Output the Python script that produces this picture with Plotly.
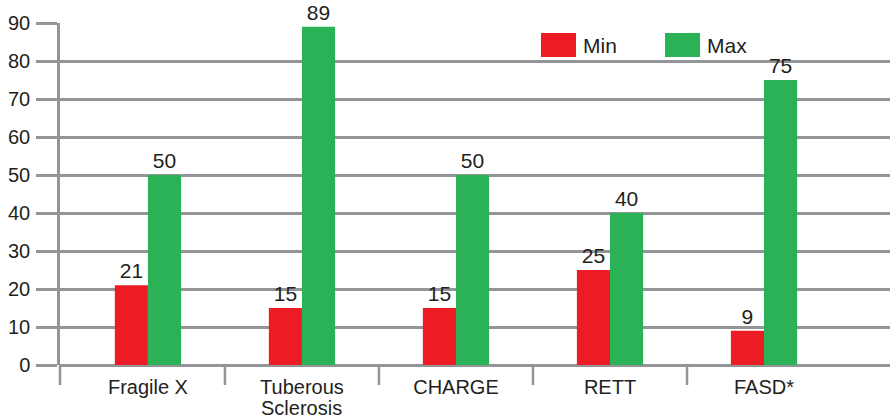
import plotly.graph_objects as go

# Age ranges (min / max) by condition
categories = ["Fragile X", "Tuberous", "CHARGE", "RETT", "FASD*"]
second_line = ["", "Sclerosis", "", "", ""]
min_values = [21, 15, 15, 25, 9]
max_values = [50, 89, 50, 40, 75]
y_ticks = [0, 10, 20, 30, 40, 50, 60, 70, 80, 90]

RED = "#ED1C24"
GREEN = "#2BB257"
GRID = "#939598"
TEXT = "#231F20"
FONT = "Liberation Sans, Arial, sans-serif"

x_pos = list(range(len(categories)))

fig = go.Figure()
fig.add_trace(go.Bar(
    x=x_pos, y=min_values, name="Min", marker=dict(color=RED, line=dict(width=0)),
    text=[str(v) for v in min_values], textposition="outside",
    textfont=dict(size=21, color=TEXT, family=FONT), cliponaxis=False,
))
fig.add_trace(go.Bar(
    x=x_pos, y=max_values, name="Max", marker=dict(color=GREEN, line=dict(width=0)),
    text=[str(v) for v in max_values], textposition="outside",
    textfont=dict(size=21, color=TEXT, family=FONT), cliponaxis=False,
))

plot_h = 342.0
tick_frac = 20 / plot_h

shapes = []
# category separators below the baseline
for i in range(len(categories) - 1):
    shapes.append(dict(type="line", xref="x", yref="paper", x0=i + 0.5, x1=i + 0.5,
                       y0=0, y1=-tick_frac, line=dict(color=GRID, width=2.5)))
# extension of the value axis below the baseline
shapes.append(dict(type="line", xref="paper", yref="paper", x0=0, x1=0,
                   y0=0, y1=-tick_frac, line=dict(color=GRID, width=2.5)))

annotations = []
# second line of wrapped category labels, set tighter than the default line height
for i, txt in enumerate(second_line):
    if txt:
        annotations.append(dict(xref="x", yref="paper", x=i, y=0, yshift=-31,
                                text=txt, showarrow=False, xanchor="center",
                                yanchor="top", borderpad=0,
                                font=dict(size=20, color=TEXT, family=FONT)))

# legend swatches
legend_items = [("Min", RED, 541), ("Max", GREEN, 665)]
for name, color, px in legend_items:
    x0 = (px - 60) / 830
    x1 = (px + 35 - 60) / 830
    shapes.append(dict(type="rect", xref="paper", yref="paper", x0=x0, x1=x1,
                       y0=(365 - 57) / plot_h, y1=(365 - 33) / plot_h,
                       fillcolor=color, line=dict(width=0)))
    annotations.append(dict(xref="paper", yref="paper", x=(px + 40 - 60) / 830,
                            y=(365 - 45) / plot_h, text=name, showarrow=False,
                            xanchor="left", yanchor="middle",
                            font=dict(size=21, color=TEXT, family=FONT)))

fig.update_layout(
    width=890, height=420,
    margin=dict(l=60, r=0, t=23, b=55, autoexpand=False),
    paper_bgcolor="white", plot_bgcolor="white",
    barmode="group", bargap=0.57, bargroupgap=0,
    showlegend=False,
    font=dict(family=FONT, size=20, color=TEXT),
    shapes=shapes, annotations=annotations,
    xaxis=dict(
        range=[-0.571, 4.818], tickvals=x_pos, ticktext=categories,
        ticks="", showgrid=False, zeroline=False, showline=False, automargin=False,
        tickfont=dict(size=20, color=TEXT, family=FONT), ticklabelstandoff=8,
    ),
    yaxis=dict(
        range=[0, 90], tickvals=y_ticks, showgrid=True, gridcolor=GRID, gridwidth=2.5,
        zeroline=True, zerolinecolor=GRID, zerolinewidth=2.5, automargin=False,
        ticks="outside", ticklen=21, tickwidth=2.5, tickcolor=GRID,
        showline=True, linecolor=GRID, linewidth=2.5,
        tickfont=dict(size=20, color=TEXT, family=FONT), ticklabelstandoff=2,
    ),
)

fig.write_html("out.html")
